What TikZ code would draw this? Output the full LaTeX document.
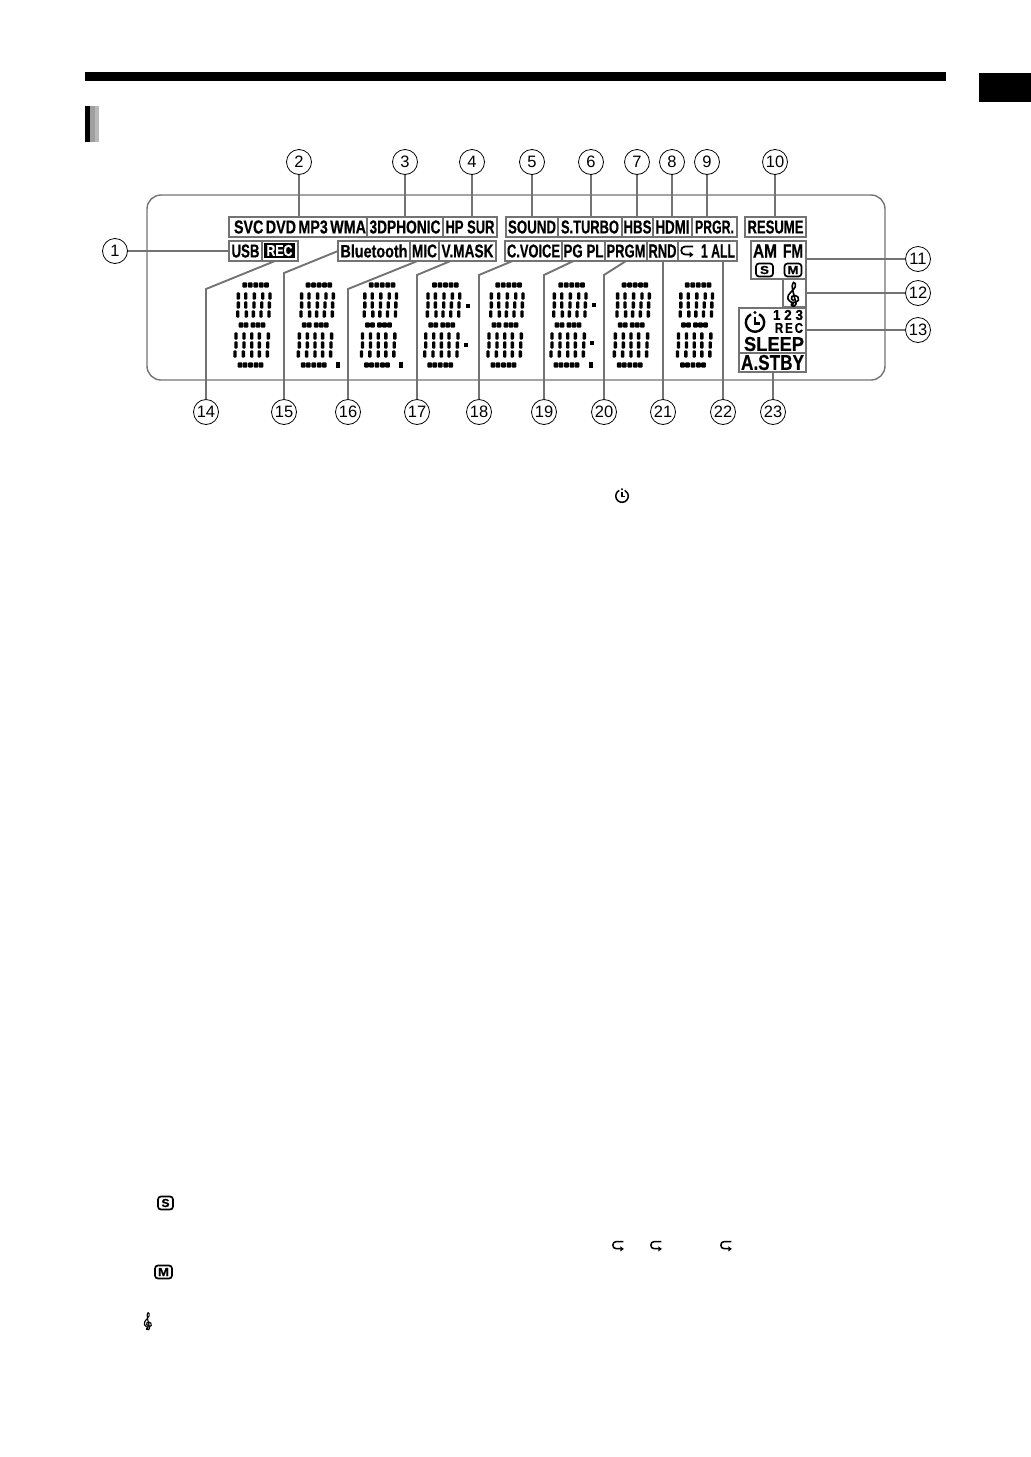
\documentclass[tikz,border=0pt]{standalone}
\usepackage{fontspec}
\setmainfont{Liberation Sans}[BoldFont={Liberation Sans Bold},BoldFeatures={FakeBold=.6}]
\definecolor{lcdgray}{gray}{0.45}
\newcommand{\lcdfit}[3][13]{\resizebox{#2pt}{#1pt}{\bfseries #3}}
\tikzset{
  callout/.style={draw=black, circle, minimum size=25pt, inner sep=0pt, line width=.8pt, font=\fontsize{16.5}{16.5}\selectfont},
  lcdbox/.style={draw=lcdgray, line width=2.2pt, inner sep=0pt, outer sep=0pt, minimum height=20pt},
  lcdtext/.style={inner sep=0pt, outer sep=0pt},
  leader/.style={draw=lcdgray, line width=1.9pt},
  blob/.style={fill=black, rounded corners=1pt},
  iconbox/.style={draw=black, line width=1.7pt, rounded corners=3pt, inner sep=0pt, minimum width=17pt, minimum height=13pt},
  lcddigit/.pic={
    \foreach \x in {2.8,8.3,13.8,19.3,24.5} \fill[blob, shift={(\x,0)}] (-2.4,-2.7) rectangle (2.4,2.7);
    \foreach \x in {-1,4,11,16,21} \fill[blob, shift={(\x,40)}] (-2.4,-2.7) rectangle (2.4,2.7);
    \foreach \x in {-2,3,8.5,14,19} \fill[blob, shift={(\x,80)}] (-2.4,-2.7) rectangle (2.4,2.7);
    \foreach \x/\y in {-3.7/11,3.7/11,12.3/11,20.7/11,28/11,
                       -3.7/20,3.7/20,12/20,19.7/20,27.3/20,
                       -4.3/29,4.3/29,11.3/29,19/29,27/29,
                       -6/51,2/51,9.7/51,17.3/51,26.3/51,
                       -6/60,2/60,9.7/60,17.3/60,25.7/60,
                       -7/69,1.3/69,9.7/69,17.3/69,25.3/69}
      \fill[blob, shift={(\x,\y)}] (-1.7,-3.7) rectangle (1.7,3.7);
  },
  loopmark/.pic={
    \draw (6,-5) -- (-2,-5) to[out=180,in=180,looseness=1.6] (-2,3) -- (3,3);
    \fill (6.5,3.2) -- (2.5,.2) -- (2.5,6.2) -- cycle;
  },
  clockmark/.pic={
    \draw (-4,-8.2) arc (-116:-424:9.2);
    \draw (0,-6) -- (0,1) -- (5,1);
    \fill (0,-10) circle (1.6);
  },
  clefmark/.pic={
    \draw plot[smooth] coordinates {(0.3,6.5) (-1.8,5) (-1.5,2.5) (1,1.5) (4,3) (4.5,6) (2,8.2) (-2,8.2) (-5,5) (-4.5,1) (-1,-3.5) (1.5,-7) (1.5,-10.5) (0,-11.5) (-1.2,-8) (-0.5,-3) (1,4) (2.3,10) (0.8,12) (-1.8,11.5) (-2,9.8)};
    \fill (-0.8,9.8) circle (1.6);
  },
}
\begin{document}
\begin{tikzpicture}[x=1pt,y=-1pt]
  \useasboundingbox (0,0) rectangle (1031,1457);
  % page marks
  \fill[black] (85,72) rectangle (946,81);
  \fill[black] (979,73) rectangle (1031,102);
  \fill[black] (85,106) rectangle (90,142);
  \fill[gray!75] (90,106) rectangle (94.5,142);
  \fill[gray!55] (95,106) rectangle (99,142);
  % display
  \draw[draw=lcdgray, line width=1.4pt, rounded corners=14pt] (147,195) rectangle (885,380);
  \foreach \x in {242,305.3,368.5,431.7,495,558,621.3,684.5}
    \pic at (\x,285) {lcddigit};
  \fill[black] (336,362) rectangle (340,368);
  \fill[black] (399,362) rectangle (403,368);
  \fill[black] (466,304) rectangle (470,308);
  \fill[black] (464,343) rectangle (468,347);
  \fill[black] (592,303) rectangle (596,307);
  \fill[black] (590,341) rectangle (594,345);
  \fill[black] (589,362) rectangle (593,368);
  % top row
  \node[lcdbox,minimum width=138pt](svc) at (298,227){\hspace{4pt}\lcdfit{132}{SVC\,DVD\,MP3\,WMA}};
  \node[lcdbox,minimum width=76pt](phonic) at (405,227){\lcdfit{71}{3DPHONIC}};
  \node[lcdbox,minimum width=54pt](hpsur) at (470,227){\lcdfit{49}{HP SUR}};
  \node[lcdbox,minimum width=52pt](sound) at (532,227){\lcdfit{48}{SOUND}};
  \node[lcdbox,minimum width=64pt](turbo) at (590,227){\lcdfit{58}{S.TURBO}};
  \node[lcdbox,minimum width=31pt](hbs) at (637.5,227){\lcdfit{28}{HBS}};
  \node[lcdbox,minimum width=39pt](hdmi) at (672.5,227){\lcdfit{34}{HDMI}};
  \node[lcdbox,minimum width=45pt](prgr) at (714.5,227){\lcdfit{39}{PRGR.}};
  \node[lcdbox,minimum width=61pt](resume) at (775.5,227){\lcdfit{56}{RESUME}};
  % second row
  \node[lcdbox,minimum width=33pt](usb) at (245.5,251){\lcdfit{28}{USB}};
  \node[lcdbox,minimum width=36pt](rec) at (280,251){};
  \node[fill=black,text=white,inner sep=0pt,minimum width=31pt,minimum height=15pt](recfill) at (279.5,250.5){\lcdfit[11]{26}{REC}};
  \node[lcdbox,minimum width=72pt](blue) at (374,251){\lcdfit{67}{Bluetooth}};
  \node[lcdbox,minimum width=29pt](mic) at (424.5,251){\lcdfit{25}{MIC}};
  \node[lcdbox,minimum width=57pt](vmask) at (467.5,251){\lcdfit{52}{V.MASK}};
  \node[lcdbox,minimum width=57pt](voice) at (533.5,251){\lcdfit{53}{C.VOICE}};
  \node[lcdbox,minimum width=43pt](pgpl) at (583.5,251){\lcdfit{40}{PG PL}};
  \node[lcdbox,minimum width=42pt](prgm) at (626,251){\lcdfit{39}{PRGM}};
  \node[lcdbox,minimum width=31pt](rnd) at (662.5,251){\lcdfit{28}{RND}};
  \node[lcdbox,minimum width=59pt](rept) at (707.5,251){};
  \pic[line width=1.7pt] at (687,251.5) {loopmark};
  \node[lcdtext,anchor=east](all) at (735,251){\lcdfit{34}{1 ALL}};
  % right column
  \node[lcdbox,minimum width=55pt,minimum height=38pt](band) at (778.5,260){};
  \node[lcdtext](am) at (765,251){\lcdfit{24}{AM}};
  \node[lcdtext](fm) at (793,251){\lcdfit{20}{FM}};
  \node[iconbox](smark) at (764.5,270){\lcdfit[8]{9}{S}};
  \node[iconbox](mmark) at (793,270){\lcdfit[8]{11}{M}};
  \node[lcdbox,minimum width=23pt,minimum height=28pt](clefbox) at (794.5,293){};
  \pic[line width=1.6pt,xscale=1.1] at (793.5,294) {clefmark};
  \node[lcdbox,minimum width=67pt,minimum height=45pt](timer) at (772.5,330.5){};
  \pic[line width=2.4pt] at (755,322.5) {clockmark};
  \node[lcdtext](nums) at (788,315){\lcdfit[10]{30}{1 2 3}};
  \node[lcdtext](trec) at (789,328){\lcdfit[10]{28}{R\,E\,C}};
  \node[lcdtext](sleep) at (774,344){\lcdfit[14]{60}{SLEEP}};
  \node[lcdbox,minimum width=67pt,minimum height=19pt](stby) at (772.5,362.5){\lcdfit[15]{63}{A.STBY}};
  % callouts
  \node[callout](n1) at (115,251){1};
  \node[callout](n2) at (299,162){2};
  \node[callout](n3) at (405,162){3};
  \node[callout](n4) at (472,162){4};
  \node[callout](n5) at (532,162){5};
  \node[callout](n6) at (591,162){6};
  \node[callout](n7) at (637,162){7};
  \node[callout](n8) at (672,162){8};
  \node[callout](n9) at (707,162){9};
  \node[callout](n10) at (775,162){10};
  \node[callout](n11) at (918,259){11};
  \node[callout](n12) at (918,293){12};
  \node[callout](n13) at (918,330){13};
  \node[callout](n14) at (206,412){14};
  \node[callout](n15) at (284,412){15};
  \node[callout](n16) at (348,412){16};
  \node[callout](n17) at (417,412){17};
  \node[callout](n18) at (479,412){18};
  \node[callout](n19) at (544,412){19};
  \node[callout](n20) at (604,412){20};
  \node[callout](n21) at (663,412){21};
  \node[callout](n22) at (723,412){22};
  \node[callout](n23) at (773,412){23};
  % bends of the slanted leaders
  \coordinate (k14) at (206,289);
  \coordinate (k15) at (284,273);
  \coordinate (k16) at (348,289);
  \coordinate (k17) at (417,275);
  \coordinate (k18) at (479,275);
  \coordinate (k19) at (544,275);
  \coordinate (k20) at (604,275);
  \draw[leader](n1)--(n1 -| usb.west);
  \draw[leader](n2)--(n2 |- svc.north);
  \draw[leader](n3)--(n3 |- phonic.north);
  \draw[leader](n4)--(n4 |- hpsur.north);
  \draw[leader](n5)--(n5 |- sound.north);
  \draw[leader](n6)--(n6 |- turbo.north);
  \draw[leader](n7)--(n7 |- hbs.north);
  \draw[leader](n8)--(n8 |- hdmi.north);
  \draw[leader](n9)--(n9 |- prgr.north);
  \draw[leader](n10)--(n10 |- resume.north);
  \draw[leader](n11)--(n11 -| band.east);
  \draw[leader](n12)--(n12 -| clefbox.east);
  \draw[leader](n13)--(n13 -| timer.east);
  \draw[leader]([xshift=-5pt]rec.south)--(k14)--(n14);
  \draw[leader](blue.west)--(k15)--(n15);
  \draw[leader]([xshift=-7pt]mic.south)--(k16)--(n16);
  \draw[leader]([xshift=-17pt]vmask.south)--(k17)--(n17);
  \draw[leader]([xshift=-21pt]voice.south)--(k18)--(n18);
  \draw[leader]([xshift=-10pt]pgpl.south)--(k19)--(n19);
  \draw[leader](prgm.south)--(k20)--(n20);
  \draw[leader](n21)--(n21 |- rnd.south);
  \draw[leader](n22)--(n22 |- rept.south);
  \draw[leader](n23)--(n23 |- stby.south);
  % loose symbols further down the page
  \pic[scale=.68,line width=1.5pt] at (622,496) {clockmark};
  \node[iconbox,minimum width=15pt,minimum height=13pt](smark2) at (165.5,1203){\lcdfit[8]{8}{S}};
  \node[iconbox,minimum width=17pt,minimum height=13pt](mmark2) at (163.5,1272){\lcdfit[8]{11}{M}};
  \pic[scale=.72,line width=1.1pt] at (148,1321) {clefmark};
  \pic[scale=.9,line width=1.5pt] at (618,1246) {loopmark};
  \pic[scale=.9,line width=1.5pt] at (656,1246) {loopmark};
  \pic[scale=.9,line width=1.5pt] at (726,1246) {loopmark};
\end{tikzpicture}
\end{document}
